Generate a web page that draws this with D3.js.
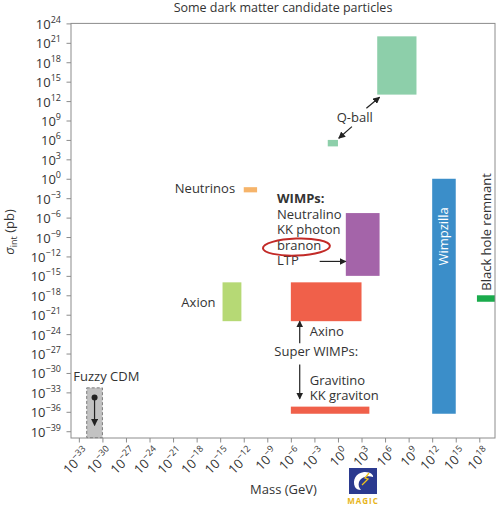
<!DOCTYPE html>
<html>
<head>
<meta charset="utf-8">
<script src="https://cdn.jsdelivr.net/npm/d3@7"></script>
<style>
  html, body { margin: 0; padding: 0; background: #fff; }
  svg { display: block; font-family: "Open Sans", "DejaVu Sans", sans-serif; }
</style>
</head>
<body>
<svg id="chart" width="496" height="505"></svg>
<script>
// Dark matter candidates: mass range (GeV) and interaction cross-section range (pb),
// both stored as base-10 exponents.
const candidates = ["Q-ball (heavy)", "Q-ball (light)", "Neutrinos", "WIMPs", "Wimpzilla",
                    "Black hole remnant", "Axino", "Gravitino", "Axion", "Fuzzy CDM"];
const massLow   = [5,    -1.3, -12,  1,   12,    17.7, -6,  -6,    -14.7, -32];
const massHigh  = [10,    0,   -10.3, 5.3, 15,    20,    3,   4,    -12.3, -30];
const sigmaLow  = [13,    5,   -2.1, -15, -36.3, -19,  -22, -36.3, -22,   -40];
const sigmaHigh = [22,    6,   -1.3, -5.3,  0,   -18,  -16, -35.2, -16,   -32.3];
const fillColors = ["#8dcfaa", "#8dcfaa", "#f6b46a", "#a464a9", "#3b8ec9",
                    "#1aab4c", "#f0604a", "#f0604a", "#b6d975", "#c2c2c2"];

// Axis tick exponents
const massTickExps  = d3.range(-33, 19, 3);   // 10^-33 ... 10^18
const sigmaTickExps = d3.range(-39, 25, 3);   // 10^-39 ... 10^24
const massDomainExps  = [-34, 20];
const sigmaDomainExps = [-40, 24];

const pow = e => Math.pow(10, e);
const svg = d3.select("#chart");
const ink = "#333";

const margin = { left: 71, right: 1, top: 23.4, bottom: 67 };
const W = 496, H = 505;
const x = d3.scaleLog().domain(massDomainExps.map(pow)).range([margin.left, W - margin.right]);
const y = d3.scaleLog().domain(sigmaDomainExps.map(pow)).range([H - margin.bottom - 0.3, margin.top]);
const X = e => x(pow(e));
const Y = e => y(pow(e));

// Arrowhead marker
const defs = svg.append("defs");
defs.append("marker")
  .attr("id", "head").attr("viewBox", "0 0 10 10")
  .attr("refX", 9).attr("refY", 5)
  .attr("markerWidth", 7).attr("markerHeight", 7)
  .attr("markerUnits", "userSpaceOnUse")
  .attr("orient", "auto")
  .append("path").attr("d", "M0,0 L10,5 L0,10 z").attr("fill", "#222");

// Title
svg.append("text")
  .attr("x", 283).attr("y", 12)
  .attr("text-anchor", "middle").attr("font-size", 12.5).attr("fill", ink)
  .text("Some dark matter candidate particles");

// Candidate boxes
const boxes = svg.append("g");
candidates.forEach((name, i) => {
  const r = boxes.append("rect")
    .attr("x", X(massLow[i]))
    .attr("y", Y(sigmaHigh[i]))
    .attr("width", X(massHigh[i]) - X(massLow[i]))
    .attr("height", Y(sigmaLow[i]) - Y(sigmaHigh[i]))
    .attr("fill", fillColors[i]);
  if (name === "Fuzzy CDM") {
    r.attr("stroke", "#7c7c7c").attr("stroke-width", 1).attr("stroke-dasharray", "3,2");
  }
});

// Axes frame and ticks
const yAxis = d3.axisLeft(y).tickValues(sigmaTickExps.map(pow)).tickSize(4.5).tickFormat("");
const xAxis = d3.axisBottom(x).tickValues(massTickExps.map(pow)).tickSize(4.5).tickFormat("");
const gy = svg.append("g").attr("transform", `translate(${margin.left},0)`).call(yAxis);
const gx = svg.append("g").attr("transform", `translate(0,${H - margin.bottom})`).call(xAxis);
[gx, gy].forEach(g => {
  g.select(".domain").remove();
  g.selectAll(".tick line").attr("stroke", "#8c8c8c").attr("stroke-width", 1);
});
svg.append("rect")
  .attr("x", margin.left).attr("y", margin.top)
  .attr("width", W - margin.right - margin.left)
  .attr("height", H - margin.bottom - margin.top)
  .attr("fill", "none").attr("stroke", "#8c8c8c").attr("stroke-width", 1);

// Power-of-ten labels
function powLabel(sel, exp) {
  sel.append("tspan").text("10");
  sel.append("tspan").attr("dy", -6).attr("font-size", 9)
    .text(exp < 0 ? "\u2212" + Math.abs(exp) : String(exp));
}
sigmaTickExps.forEach(e => {
  const t = svg.append("text")
    .attr("x", 61).attr("y", Y(e) + 5.5)
    .attr("text-anchor", "end").attr("font-size", 13).attr("fill", ink);
  powLabel(t, e);
});
massTickExps.forEach(e => {
  const t = svg.append("text")
    .attr("transform", `translate(${X(e) + 5},${H - margin.bottom + 9}) rotate(-45)`)
    .attr("dy", "0.7em")
    .attr("text-anchor", "end").attr("font-size", 13).attr("fill", ink);
  powLabel(t, e);
});

// Axis titles
svg.append("text")
  .attr("x", 283.5).attr("y", 494)
  .attr("text-anchor", "middle").attr("font-size", 13).attr("fill", ink)
  .text("Mass (GeV)");
const yt = svg.append("text")
  .attr("transform", "translate(14,232) rotate(-90)")
  .attr("text-anchor", "middle").attr("font-size", 13).attr("fill", ink);
yt.append("tspan").attr("font-style", "italic").text("\u03c3");
yt.append("tspan").attr("font-size", 9).attr("dy", 3).text("int");
yt.append("tspan").attr("dy", -3).text(" (pb)");

// Annotations
const note = (mx, sy, txt, anchor = "start", weight = "normal") =>
  svg.append("text").attr("x", X(mx)).attr("y", Y(sy))
    .attr("text-anchor", anchor).attr("font-size", 13)
    .attr("font-weight", weight).attr("fill", ink).text(txt);
const arrow = (m1, s1, m2, s2) =>
  svg.append("line")
    .attr("x1", X(m1)).attr("y1", Y(s1)).attr("x2", X(m2)).attr("y2", Y(s2))
    .attr("stroke", "#222").attr("stroke-width", 1.2).attr("marker-end", "url(#head)");

// Q-ball
note(2.13, 8.83, "Q-ball", "middle");
arrow(3.62, 10.9, 5.3, 12.6);
arrow(1.78, 8.06, 0.1, 6.25);

// Neutrinos
note(-13.1, -2.17, "Neutrinos", "end");

// WIMPs block
note(-7.76, -3.76, "WIMPs:", "start", "bold");
note(-7.76, -6.23, "Neutralino");
note(-7.76, -8.54, "KK photon");
note(-7.76, -10.96, "branon");
note(-7.76, -13.28, "LTP");
svg.append("ellipse")
  .attr("cx", X(-5.29)).attr("cy", Y(-10.55))
  .attr("rx", 33.5).attr("ry", 8.5)
  .attr("transform", `rotate(-2,${X(-5.29)},${Y(-10.55)})`)
  .attr("fill", "none").attr("stroke", "#c22a27").attr("stroke-width", 2);
arrow(-2.33, -12.77, 1, -12.77);

// Wimpzilla (white label inside the bar)
svg.append("text")
  .attr("transform", `translate(${X(13.5) + 4.5},${Y(-8.9)}) rotate(-90)`)
  .attr("text-anchor", "middle").attr("font-size", 13).attr("fill", "#fff")
  .text("Wimpzilla");

// Black hole remnant
svg.append("text")
  .attr("transform", `translate(${X(19.45)},${Y(-17.3)}) rotate(-90)`)
  .attr("text-anchor", "start").attr("font-size", 13).attr("fill", ink)
  .text("Black hole remnant");

// Axion
note(-15.6, -19.76, "Axion", "end");

// Super WIMPs
note(-3.6, -24.3, "Axino");
arrow(-4.87, -25.4, -4.87, -22);
note(-8.1, -27.4, "Super WIMPs:");
arrow(-4.87, -28.7, -4.87, -34.0);
note(-3.6, -31.8, "Gravitino");
note(-3.6, -34.1, "KK graviton");

// Fuzzy CDM
note(-33.7, -31.3, "Fuzzy CDM");
svg.append("circle").attr("cx", X(-31)).attr("cy", Y(-33.8)).attr("r", 3).attr("fill", "#222");
arrow(-31, -33.8, -31, -38.1);

// MAGIC logo
const logo = svg.append("g").attr("transform", "translate(349,468)");
logo.append("rect").attr("width", 28).attr("height", 26).attr("fill", "#2b3a8f");
logo.append("path")
  .attr("d", "M6,19 C3,12 7,5 15,4 C21,3.5 25,7 24,9 C19,7 12,9 10,14 C9,17 10,20 12,22 C9,22 7,21 6,19 Z")
  .attr("fill", "#fff");
logo.append("path")
  .attr("d", "M20,5 L16,10 L19,11 L13,17")
  .attr("fill", "none").attr("stroke", "#f2c318").attr("stroke-width", 1.3);
svg.append("text")
  .attr("x", 363).attr("y", 503.5)
  .attr("text-anchor", "middle").attr("font-size", 8).attr("font-weight", "bold")
  .attr("letter-spacing", 1).attr("fill", "#e8b51a")
  .text("MAGIC");
</script>
</body>
</html>
